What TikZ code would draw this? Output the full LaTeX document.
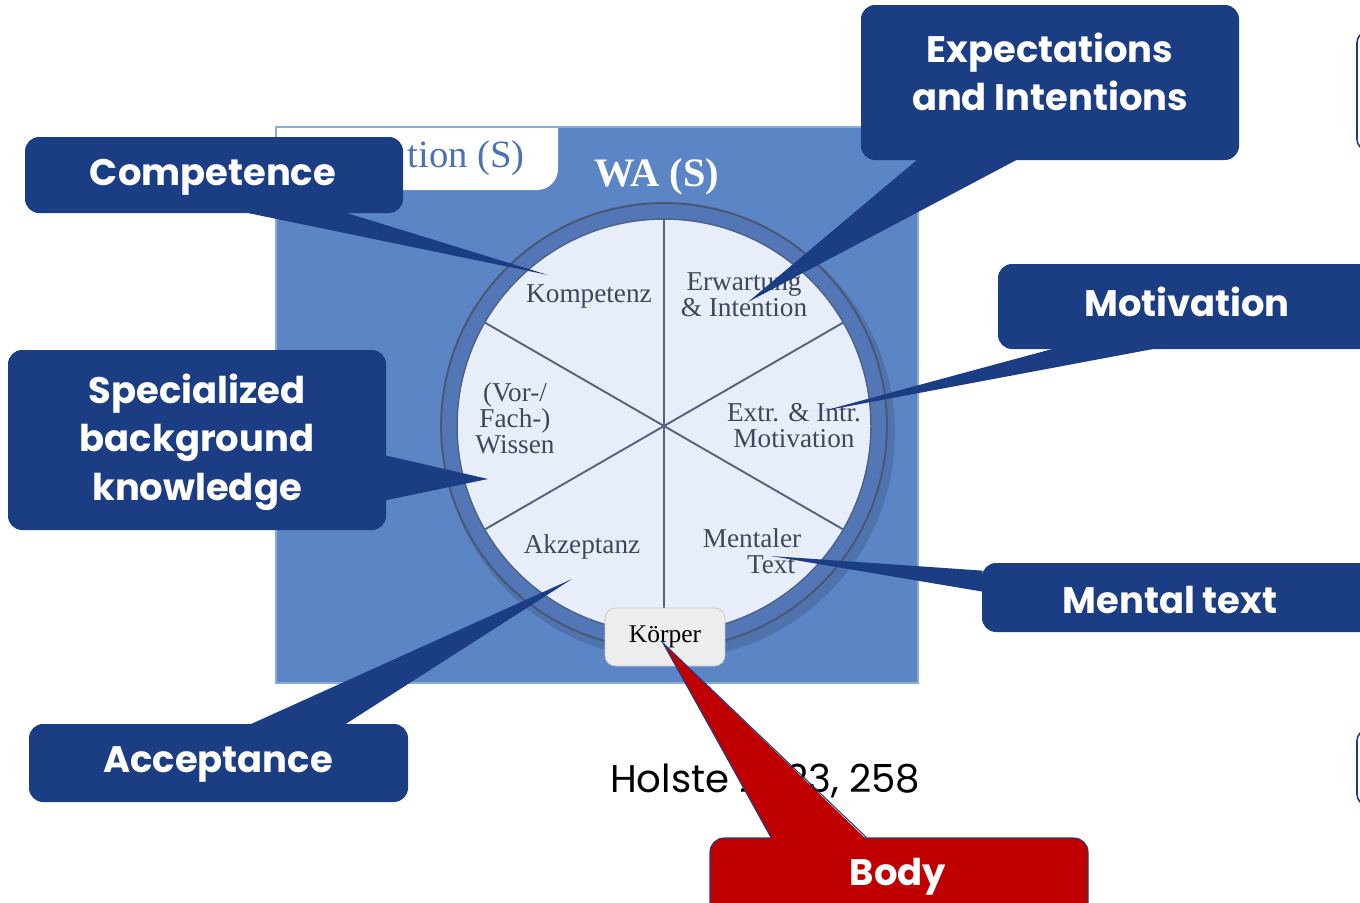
\documentclass[tikz,border=0pt]{standalone}
\usepackage{fontspec}
\setmainfont{Liberation Serif}
\newfontfamily\calloutfont{Poppins}
\usetikzlibrary{positioning,fit,calc}

\definecolor{calloutblue}{HTML}{1B3D84}
\definecolor{picblue}{HTML}{5B85C5}
\definecolor{ringblue}{HTML}{5276B6}
\definecolor{ringline}{HTML}{4A5872}
\definecolor{disklight}{HTML}{E8EEF9}
\definecolor{spokegray}{HTML}{56647E}
\definecolor{labelgray}{HTML}{3E475A}
\definecolor{tabblue}{HTML}{4A72B8}
\definecolor{bodyred}{HTML}{C00000}

\tikzset{
  callout/.style={fill=calloutblue, rounded corners=8pt, inner sep=0pt},
  callout text/.style={text=white, font=\calloutfont\bfseries\fontsize{21}{27.5}\selectfont, align=center},
  pointer/.style={fill=calloutblue},
  sector/.style={text=labelgray, font=\fontsize{15.5}{14.8}\selectfont, align=center, inner sep=0pt},
  spoke/.style={draw=spokegray, line width=1.1pt},
  sideframe/.style={draw=calloutblue, fill=white, line width=0.9pt, rounded corners=6pt},
}

\begin{document}
\begin{tikzpicture}[x=0.02cm, y=-0.02cm]
\useasboundingbox (0,0) rectangle (1360,903);

% picture of the model
\begin{scope}
  \clip (276,127) rectangle (918,683);
  \fill[picblue] (276,127) rectangle (918,683);
  \fill[white, rounded corners=12pt] (250,100) rectangle (558,190);
\end{scope}
\draw[picblue!70!white, line width=0.6pt] (276,127) rectangle (918,683);
\node[text=tabblue, font=\fontsize{22}{22}\selectfont, anchor=east] (tab) at (531,158) {tion (S)};
\node[text=white, font=\bfseries\fontsize{23}{23}\selectfont] (wa) at (657,177) {WA (S)};

\node[circle, minimum size=8.92cm, inner sep=0pt] (wheel) at (664,426) {};
\fill[black, opacity=0.12] ($(wheel.center)+(5,7)$) circle[radius=4.52cm];
\filldraw[fill=ringblue, draw=ringline, line width=1.1pt] (wheel.center) circle[radius=4.46cm];
\filldraw[fill=disklight, draw=ringline!70!ringblue, line width=0.8pt] (wheel.center) circle[radius=4.14cm];
\foreach \a in {30,90,...,330}
  \draw[spoke] (wheel.center) -- ++(\a:4.14cm);

\node[sector] (kompetenz) at (589,296) {Kompetenz};
\node[sector] (erwartung) at (744,295) {Erwartung\\\& Intention};
\node[sector] (motiv) at (794,426) {Extr. \& Intr.\\Motivation};
\node[sector] (mental) at (752,551) {Mentaler\\\hspace*{1.4em}Text};
\node[sector] (akzeptanz) at (582,547) {Akzeptanz};
\node[sector] (wissen) at (515,418) {(Vor-/\\Fach-)\\Wissen};

\node[draw=black!22, fill=black!7, rounded corners=6pt, minimum width=2.4cm, minimum height=1.16cm,
      font=\fontsize{14.5}{14}\selectfont] (koerper) at (665,637) {K\"orper};

% source
\node[font=\calloutfont\fontsize{22}{22}\selectfont] (source) at (765,781) {Holste 2023, 258};

% frames cut by the right edge
\begin{scope}
  \clip (0,0) rectangle (1360,903);
  \node[sideframe, fit={(1357,32) (1420,150)}, inner sep=0pt] (frameA) {};
  \node[sideframe, fit={(1357,730) (1420,805)}, inner sep=0pt] (frameB) {};

  % callouts
  \coordinate (compTip) at (548,275);
  \node[callout, fit={(25,137) (403,213)}] (compBox) {};
  \fill[pointer] ($(compBox.south west)+(220,-1)$) -- (compTip) -- ($(compBox.south west)+(320,-1)$) -- cycle;
  \node[callout text] (compText) at (213,177) {Competence};

  \coordinate (expTip) at (748,302);
  \node[callout, fit={(861,5) (1239,160)}] (expBox) {};
  \fill[pointer] ($(expBox.south west)+(57,-1)$) -- (expTip) -- ($(expBox.south west)+(157,-1)$) -- cycle;
  \node[callout text] (expText) at (1050,72) {Expectations\\and Intentions};

  \coordinate (motTip) at (823,411);
  \node[callout, fit={(998,264) (1400,349)}] (motBox) {};
  \fill[pointer] ($(motBox.south west)+(57,-1)$) -- (motTip) -- ($(motBox.south west)+(159,-1)$) -- cycle;
  \node[callout text] (motText) at (1187,302) {Motivation};

  \coordinate (specTip) at (488,479);
  \node[callout, fit={(8,350) (386,530)}] (specBox) {};
  \fill[pointer] ($(specBox.south east)+(-1,-75)$) -- (specTip) -- ($(specBox.south east)+(-1,-30)$) -- cycle;
  \node[callout text] (specText) at (197,442) {Specialized\\background\\knowledge};

  \coordinate (mentTip) at (771,556);
  \node[callout, fit={(982,563) (1400,632)}] (mentBox) {};
  \fill[pointer] ($(mentBox.north west)+(1,8)$) -- (mentTip) -- ($(mentBox.north west)+(1,29)$) -- cycle;
  \node[callout text] (mentText) at (1170,600) {Mental text};

  \coordinate (accTip) at (572,579);
  \node[callout, fit={(29,724) (408,802)}] (accBox) {};
  \fill[pointer] ($(accBox.north west)+(221,1)$) -- (accTip) -- ($(accBox.north west)+(316,1)$) -- cycle;
  \node[callout text] (accText) at (218,764) {Acceptance};

  \coordinate (bodyTip) at (663,643);
  \node[callout, fill=bodyred, draw=calloutblue, line width=0.6pt, fit={(710,838) (1088,930)}] (bodyBox) {};
  \fill[bodyred] ($(bodyBox.north west)+(62,2)$) -- (bodyTip) -- ($(bodyBox.north west)+(157,2)$) -- cycle;
  \draw[calloutblue, line width=0.6pt] ($(bodyBox.north west)+(62,0)$) -- (bodyTip) -- ($(bodyBox.north west)+(157,0)$);
  \node[callout text] (bodyText) at (898,877) {Body};
\end{scope}
\end{tikzpicture}
\end{document}
